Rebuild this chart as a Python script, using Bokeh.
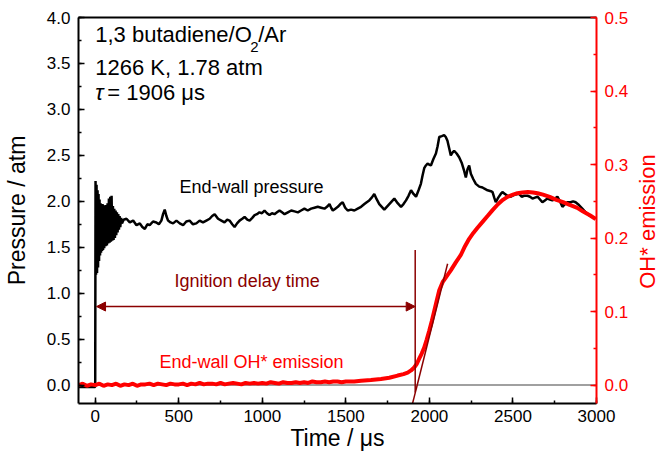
import math
from bokeh.plotting import figure
from bokeh.layouts import row
from bokeh.core.properties import value
from bokeh.models import (Range1d, LinearAxis, SingleIntervalTicker, NumeralTickFormatter,
                          Label, Span, Arrow, NormalHead, FixedTicker)
from bokeh.embed import file_html
from bokeh.resources import INLINE

# ---------------- data ----------------
pressure_t = [-100, -50, 0, 2, 5, 8, 11, 14, 17, 20, 23, 26, 29, 32, 35, 38, 41, 44, 47, 50,
              54, 58, 62, 66, 70, 74, 78, 82, 86, 90, 94, 98, 102, 106, 110, 114, 118, 122,
              126, 130, 134, 138, 142, 146, 150, 155, 160, 170, 187, 207, 227, 247, 267, 282,
              297, 312, 326, 346, 366, 381, 396, 406, 416, 426, 436, 451, 466, 486, 506, 526,
              545, 565, 585, 605, 625, 645, 665, 685, 700, 715, 735, 755, 774, 790, 804, 820,
              834, 849, 864, 880, 894, 910, 924, 940, 954, 968, 983, 998, 1013, 1028, 1043,
              1058, 1073, 1088, 1103, 1118, 1133, 1153, 1173, 1193, 1213, 1232, 1252, 1272,
              1292, 1312, 1332, 1352, 1372, 1387, 1402, 1412, 1422, 1437, 1452, 1467, 1481,
              1496, 1511, 1531, 1551, 1571, 1591, 1611, 1625, 1640, 1655, 1670, 1685, 1700,
              1715, 1730, 1745, 1760, 1775, 1790, 1810, 1830, 1845, 1860, 1875, 1890, 1905,
              1920, 1935, 1949, 1959, 1969, 1979, 1989, 1999, 2009, 2024, 2039, 2049, 2059,
              2074, 2088, 2098, 2108, 2118, 2128, 2138, 2148, 2163, 2178, 2193, 2208, 2218,
              2228, 2238, 2248, 2263, 2278, 2298, 2318, 2327, 2348, 2368, 2378, 2388, 2397,
              2412, 2427, 2437, 2452, 2467, 2487, 2507, 2527, 2537, 2552, 2567, 2587, 2602,
              2617, 2632, 2647, 2662, 2676, 2691, 2706, 2721, 2736, 2751, 2766, 2781, 2796,
              2811, 2826, 2845, 2860, 2875, 2895, 2915, 2935, 2955, 2975, 2995]
pressure_atm = [-0.02, -0.02, -0.02, 2.22, 1.20, 2.18, 1.22, 2.12, 1.28, 2.08, 1.35, 2.02, 1.41,
                1.98, 1.44, 1.97, 1.46, 1.97, 1.47, 1.96, 1.49, 1.95, 1.51, 1.96, 1.52, 1.98,
                1.54, 2.03, 1.55, 2.05, 1.56, 2.06, 1.57, 1.95, 1.58, 1.92, 1.60, 1.90, 1.63,
                1.88, 1.66, 1.86, 1.69, 1.84, 1.72, 1.82, 1.76, 1.80, 1.81, 1.77, 1.79, 1.74,
                1.76, 1.72, 1.70, 1.75, 1.74, 1.78, 1.77, 1.75, 1.79, 1.86, 1.91, 1.84, 1.79,
                1.77, 1.76, 1.79, 1.76, 1.74, 1.78, 1.79, 1.75, 1.76, 1.79, 1.77, 1.79, 1.81,
                1.84, 1.86, 1.81, 1.79, 1.77, 1.80, 1.79, 1.75, 1.72, 1.76, 1.79, 1.81, 1.83,
                1.80, 1.79, 1.82, 1.85, 1.86, 1.88, 1.87, 1.90, 1.87, 1.85, 1.87, 1.86, 1.88,
                1.90, 1.88, 1.86, 1.88, 1.90, 1.89, 1.88, 1.90, 1.92, 1.90, 1.92, 1.93, 1.94,
                1.93, 1.92, 1.94, 1.97, 1.93, 1.90, 1.92, 1.94, 1.97, 1.99, 1.93, 1.90, 1.91,
                1.90, 1.92, 1.94, 1.97, 1.99, 2.01, 2.04, 2.08, 2.02, 1.97, 1.94, 1.91, 1.94,
                1.97, 2.00, 2.03, 1.98, 1.94, 1.97, 2.01, 2.06, 2.12, 2.08, 2.05, 2.12, 2.19,
                2.28, 2.36, 2.39, 2.41, 2.40, 2.39, 2.46, 2.52, 2.60, 2.70, 2.71, 2.72, 2.70,
                2.66, 2.58, 2.50, 2.53, 2.55, 2.52, 2.48, 2.42, 2.33, 2.26, 2.35, 2.39, 2.30,
                2.24, 2.19, 2.16, 2.15, 2.14, 2.12, 2.11, 2.10, 2.04, 1.99, 2.04, 2.08, 2.10,
                2.08, 2.06, 2.05, 2.07, 2.08, 2.08, 2.05, 2.06, 2.06, 2.05, 2.03, 2.04, 2.05,
                2.02, 1.99, 2.01, 2.03, 2.02, 2.01, 2.03, 2.05, 2.00, 1.94, 1.97, 1.99, 1.99,
                2.00, 1.99, 1.96, 1.92, 1.88, 1.85, 1.83, 1.81]

oh_t = [-100, -75, -50, -25, 0, 25, 50, 75, 100, 125, 150, 175, 200, 225, 250, 275, 300, 325,
        350, 375, 400, 425, 450, 475, 500, 525, 550, 575, 600, 625, 650, 675, 700, 725, 750,
        775, 800, 825, 850, 875, 900, 925, 950, 975, 1000, 1025, 1050, 1075, 1100, 1125, 1150,
        1175, 1200, 1225, 1250, 1275, 1300, 1325, 1350, 1375, 1400, 1425, 1450, 1475, 1500,
        1550, 1591, 1650, 1710, 1760, 1810, 1845, 1870, 1890, 1909, 1925, 1939, 1954,
        1969, 1984, 1999, 2014, 2029, 2044, 2059, 2079, 2100, 2128, 2158, 2188, 2213, 2238,
        2263, 2288, 2318, 2348, 2378, 2410, 2440, 2467, 2500, 2527, 2557, 2590, 2620, 2647,
        2680, 2720, 2760, 2800, 2840, 2885, 2920, 2960, 2995]
oh_signal = [0.000, 0.002, -0.001, 0.001, 0.000, 0.002, -0.001, 0.001, 0.000, 0.002, -0.001,
             0.001, 0.000, 0.002, -0.001, 0.001, 0.001, 0.002, 0.000, 0.002, 0.001, 0.000,
             0.002, 0.001, 0.001, 0.002, 0.000, 0.002, 0.001, 0.003, 0.001, 0.002, 0.002,
             0.001, 0.003, 0.001, 0.002, 0.003, 0.002, 0.001, 0.003, 0.002, 0.003, 0.002,
             0.003, 0.002, 0.004, 0.003, 0.002, 0.004, 0.003, 0.003, 0.004, 0.003, 0.004,
             0.003, 0.005, 0.004, 0.004, 0.005, 0.004, 0.005, 0.005, 0.004, 0.005,
             0.005, 0.006, 0.007, 0.0084, 0.010, 0.013, 0.015, 0.017, 0.020, 0.024, 0.029,
             0.036, 0.043, 0.051, 0.062, 0.074, 0.087, 0.101, 0.115, 0.129, 0.140, 0.147,
             0.156, 0.167, 0.177, 0.189, 0.199, 0.207, 0.214, 0.222, 0.230, 0.238, 0.246,
             0.252, 0.256, 0.259, 0.261, 0.262, 0.2625, 0.262, 0.261, 0.259, 0.256, 0.252,
             0.249, 0.245, 0.241, 0.236, 0.231, 0.226]

# ignition-delay construction (time in us, pressure-axis units)
ign_time = 1915
arrow_start_t = 8
arrow_level = 0.855
ign_line_p = [-0.08, 1.47]
tangent_t = [1884, 2109]
tangent_p = [-0.31, 1.32]

x_ticks_interval = 500
p_ticks_interval = 0.5
oh_ticks_interval = 0.1

# ---------------- styling ----------------
FONT = "Liberation Sans"
DARK = "#8B0000"
RED = "#FF0000"
Y_RANGE = (-0.2, 4.0)

p = figure(width=636, height=454, x_range=Range1d(-100, 3000), y_range=Range1d(*Y_RANGE),
           output_backend="svg", toolbar_location=None,
           min_border_left=77, min_border_right=40, min_border_top=17, min_border_bottom=51)
p.outline_line_color = None
p.xgrid.visible = False
p.ygrid.visible = False
p.extra_y_ranges = {"oh": Range1d(-0.025, 0.5)}


def style_axis(ax, color, interval, fmt=None, title=None, standoff=8, title_standoff=0):
    ax.ticker = SingleIntervalTicker(interval=interval, num_minor_ticks=2)
    if fmt:
        ax.formatter = NumeralTickFormatter(format=fmt)
    ax.axis_line_color = color
    ax.axis_line_width = 2
    ax.major_tick_line_color = color
    ax.minor_tick_line_color = color
    ax.major_tick_line_width = 1.5
    ax.minor_tick_line_width = 1.5
    ax.major_tick_in = 6
    ax.major_tick_out = 0
    ax.minor_tick_in = 3
    ax.minor_tick_out = 0
    ax.major_label_text_font = FONT
    ax.major_label_text_font_size = "17px"
    ax.major_label_text_color = color
    ax.major_label_standoff = standoff
    if title:
        ax.axis_label = title
        ax.axis_label_text_font = FONT
        ax.axis_label_text_font_size = "23px"
        ax.axis_label_text_font_style = "normal"
        ax.axis_label_text_color = color
        ax.axis_label_standoff = title_standoff


style_axis(p.xaxis[0], "black", x_ticks_interval, title="Time / μs", standoff=6, title_standoff=0)
style_axis(p.yaxis[0], "black", p_ticks_interval, "0.0", title="Pressure / atm",
           standoff=8, title_standoff=14)
right = LinearAxis(y_range_name="oh")
style_axis(right, RED, oh_ticks_interval, "0.0", standoff=8)
p.add_layout(right, "right")

top = LinearAxis(ticker=FixedTicker(ticks=[]), major_label_text_font_size="0px",
                 axis_line_color="black", axis_line_width=2,
                 major_tick_in=0, major_tick_out=0, minor_tick_in=0, minor_tick_out=0)
p.add_layout(top, "above")

# zero line
p.add_layout(Span(location=0, dimension="width", line_color="#808080", line_width=1.5,
                  level="underlay"))

# pressure trace
p.line(pressure_t, pressure_atm, line_color="black", line_width=2.5)
# OH* emission trace
p.line(oh_t, oh_signal, line_color=RED, line_width=4, y_range_name="oh")

# ignition delay construction
p.line([ign_time, ign_time], ign_line_p, line_color=DARK, line_width=1.5)
p.line(tangent_t, tangent_p, line_color=DARK, line_width=1.5)
p.add_layout(Arrow(start=NormalHead(size=9, fill_color=DARK, line_color=DARK),
                   end=NormalHead(size=9, fill_color=DARK, line_color=DARK),
                   x_start=arrow_start_t, y_start=arrow_level, x_end=ign_time, y_end=arrow_level,
                   line_color=DARK, line_width=1.5))


def lab(text, x, y, size, color="black", **kw):
    p.add_layout(Label(text=text, x=x, y=y, text_font=FONT, text_font_size=size,
                       text_color=color, **kw))


lab("1,3 butadiene/O", 0, 3.68, "22px")
lab("2", 0, 3.68, "15px", x_offset=155, y_offset=-5)
lab("/Ar", 0, 3.68, "22px", x_offset=163)
lab("1266 K, 1.78 atm", 0, 3.317, "22px")
lab("τ", 0, 3.052, "22px", text_font_style="italic")
lab("= 1906 μs", 0, 3.052, "22px", x_offset=12)

lab("End-wall pressure", 504, 2.046, "18px")
lab("Ignition delay time", 475, 1.02, "18px", DARK)
lab("End-wall OH* emission", 385, 0.14, "18px", RED)

# right-hand axis title (reads bottom-to-top), in a narrow strip beside the plot
t = figure(width=20, height=454, x_range=Range1d(0, 20), y_range=Range1d(*Y_RANGE),
           output_backend="svg", toolbar_location=None, x_axis_location=None,
           y_axis_location=None, min_border_left=0, min_border_right=0,
           min_border_top=17, min_border_bottom=51)
t.outline_line_color = None
for g in t.grid:
    g.visible = False
t.text(x=[11], y=[1.78], text=["OH* emission"], angle=math.pi / 2, text_align="center",
       text_baseline="alphabetic", text_font=value(FONT), text_font_size="22px",
       text_color=RED)

layout = row(p, t)
open("out.html", "w").write(file_html(layout, INLINE))
